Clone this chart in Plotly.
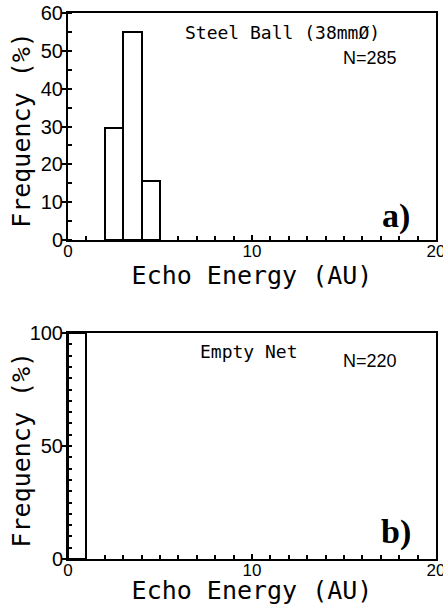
import plotly.graph_objects as go
from plotly.subplots import make_subplots

# Data: histogram bins (left edges, width 1 AU) and frequency (%)
steel_bin_left = [2, 3, 4]
steel_freq = [29.5, 55.0, 15.5]
steel_n = 285

empty_bin_left = [0]
empty_freq = [100.0]
empty_n = 220

x_tickvals = [0, 10, 20]
top_y_tickvals = [0, 10, 20, 30, 40, 50, 60]
bot_y_tickvals = [0, 50, 100]

fig = make_subplots(rows=2, cols=1, vertical_spacing=0.0)

bar_style = dict(marker=dict(color="white", line=dict(color="black", width=2)),
                 width=1, offset=0, showlegend=False, hoverinfo="skip")
fig.add_trace(go.Bar(x=steel_bin_left, y=steel_freq, **bar_style), row=1, col=1)
fig.add_trace(go.Bar(x=empty_bin_left, y=empty_freq, **bar_style), row=2, col=1)

mono = "DejaVu Sans Mono"
tickfont = dict(family="Liberation Sans, Arial", size=20, color="black")
titlefont = dict(family=mono, size=25, color="black")

common_x = dict(range=[0, 20], tickvals=x_tickvals, ticks="inside", ticklen=5,
                tickwidth=1.5, tickcolor="black", showline=True, linecolor="black",
                linewidth=2, mirror=True, showgrid=False, zeroline=False,
                automargin=False, ticklabeloverflow="allow", ticklabelstandoff=-5,
                tickfont=dict(family="Liberation Sans, Arial", size=17, color="black"),
                minor=dict(dtick=1, ticks="inside", ticklen=4, tickcolor="black", tickwidth=1.5),
                title=dict(text="Echo Energy (AU)", font=titlefont, standoff=0))
common_y = dict(ticks="outside", ticklen=4, tickwidth=1.5, tickcolor="black",
                showline=True, linecolor="black", linewidth=2, mirror=True,
                showgrid=False, zeroline=False, tickfont=tickfont, automargin=False,
                ticklabeloverflow="allow", ticklabelstandoff=-5,
                minor=dict(dtick=5, ticks="inside", ticklen=4, tickcolor="black", tickwidth=1.5))

fig.update_xaxes(**common_x)
fig.update_yaxes(**common_y)

fig.update_layout(
    width=443, height=605,
    margin=dict(l=68, r=7, t=13, b=46),
    paper_bgcolor="white", plot_bgcolor="white",
    bargap=0,
    xaxis=dict(domain=[0, 1], anchor="y"),
    yaxis=dict(domain=[0.5842, 1.0], range=[0, 60], tickvals=top_y_tickvals),
    xaxis2=dict(domain=[0, 1], anchor="y2"),
    yaxis2=dict(domain=[0.0, 0.4139], range=[0, 100], tickvals=bot_y_tickvals),
)

# y-axis titles (placed as rotated annotations for precise placement)
for ypos in (0.786, 0.2005):
    fig.add_annotation(text="Frequency (%)", xref="paper", yref="paper",
                       x=-0.125, y=ypos, textangle=-90, showarrow=False,
                       xanchor="center", yanchor="middle", font=titlefont)

ann_mono = dict(family=mono, size=18, color="black")
ann_sans = dict(family="Liberation Sans, Arial", size=18, color="black")
panel_font = dict(family="Liberation Serif, Times New Roman", size=34, color="black")

def add_ann(text, xr, yr, x, y, font):
    fig.add_annotation(text=text, xref=xr, yref=yr, x=x, y=y, showarrow=False,
                       xanchor="center", yanchor="middle", font=font)

add_ann("Steel Ball (38mmØ)", "x domain", "y domain", 0.584, 0.912, ann_mono)
add_ann(f"N={steel_n}", "x domain", "y domain", 0.821, 0.802, ann_sans)
add_ann("<b>a)</b>", "x domain", "y domain", 0.891, 0.106, panel_font)
add_ann("Empty Net", "x2 domain", "y2 domain", 0.492, 0.916, ann_mono)
add_ann(f"N={empty_n}", "x2 domain", "y2 domain", 0.821, 0.876, ann_sans)
add_ann("<b>b)</b>", "x2 domain", "y2 domain", 0.891, 0.119, panel_font)

fig.write_html("out.html", config={"displayModeBar": False},
               post_script="document.body.style.margin='0';")
